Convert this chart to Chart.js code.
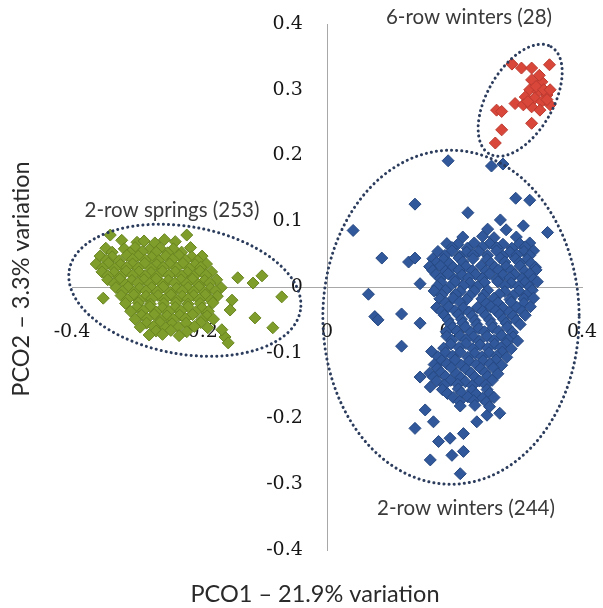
<!DOCTYPE html>
<html>
<head>
<meta charset="utf-8">
<script src="https://cdn.jsdelivr.net/npm/chart.js@4.4.0/dist/chart.umd.min.js"></script>
<style>
  html, body { margin: 0; padding: 0; background: #fff; overflow: hidden; }
  #wrap { position: relative; width: 603px; height: 608px; }
</style>
</head>
<body>
<div id="wrap"><canvas id="pcoChart"></canvas></div>
<script>
// tick values
const xTicks = [-0.4, -0.2, 0, 0.2, 0.4];
const yTicks = [-0.4, -0.3, -0.2, -0.1, 0, 0.1, 0.2, 0.3, 0.4];

// group names
const groupNames = ['2-row springs (253)', '2-row winters (244)', '6-row winters (28)'];

// PCO1 / PCO2 scores, [x, y]
const springs2row = [
  [-0.340,0.079],[-0.220,0.079],[-0.298,0.068],[-0.270,0.067],[-0.351,-0.017],[-0.140,0.014],
  [-0.116,0.006],[-0.102,0.017],[-0.071,-0.015],[-0.113,-0.047],[-0.085,-0.062],[-0.160,-0.076],
  [-0.165,-0.065],[-0.149,-0.020],[-0.152,-0.035],[-0.155,-0.085],
  [-0.322,0.071],[-0.287,0.070],[-0.255,0.072],[-0.238,0.069],
  [-0.347,0.059],[-0.318,0.058],[-0.301,0.060],[-0.279,0.057],[-0.262,0.059],[-0.241,0.058],[-0.214,0.060],
  [-0.337,0.053],[-0.309,0.052],[-0.290,0.054],[-0.268,0.053],[-0.250,0.052],[-0.228,0.053],
  [-0.356,0.047],[-0.337,0.046],[-0.314,0.048],[-0.296,0.047],[-0.275,0.045],[-0.253,0.047],[-0.232,0.048],[-0.212,0.046],[-0.196,0.047],
  [-0.346,0.041],[-0.326,0.040],[-0.305,0.042],[-0.285,0.041],[-0.264,0.040],[-0.242,0.042],[-0.222,0.041],[-0.203,0.040],
  [-0.362,0.035],[-0.343,0.036],[-0.324,0.034],[-0.305,0.035],[-0.286,0.036],[-0.267,0.034],[-0.247,0.035],[-0.226,0.036],[-0.207,0.034],[-0.189,0.035],
  [-0.352,0.029],[-0.333,0.028],[-0.314,0.030],[-0.296,0.029],[-0.276,0.028],[-0.257,0.030],[-0.236,0.029],[-0.216,0.028],[-0.198,0.030],
  [-0.353,0.023],[-0.334,0.022],[-0.315,0.024],[-0.295,0.023],[-0.276,0.022],[-0.258,0.024],[-0.238,0.023],[-0.219,0.022],[-0.199,0.024],[-0.181,0.023],
  [-0.344,0.017],[-0.324,0.016],[-0.305,0.018],[-0.285,0.017],[-0.267,0.016],[-0.248,0.018],[-0.228,0.017],[-0.209,0.016],[-0.190,0.018],
  [-0.344,0.011],[-0.325,0.012],[-0.306,0.010],[-0.287,0.011],[-0.268,0.012],[-0.249,0.010],[-0.229,0.011],[-0.211,0.012],[-0.192,0.010],[-0.173,0.011],
  [-0.334,0.005],[-0.316,0.004],[-0.297,0.006],[-0.278,0.005],[-0.258,0.004],[-0.239,0.006],[-0.220,0.005],[-0.202,0.004],[-0.184,0.006],
  [-0.331,-0.001],[-0.312,0.000],[-0.294,-0.002],[-0.275,-0.001],[-0.257,0.000],[-0.236,-0.002],[-0.218,-0.001],[-0.201,0.000],[-0.183,-0.002],[-0.166,-0.001],
  [-0.321,-0.007],[-0.303,-0.008],[-0.284,-0.006],[-0.266,-0.007],[-0.246,-0.008],[-0.227,-0.006],[-0.209,-0.007],[-0.192,-0.008],[-0.175,-0.006],
  [-0.323,-0.013],[-0.303,-0.012],[-0.284,-0.014],[-0.265,-0.013],[-0.245,-0.012],[-0.227,-0.014],[-0.209,-0.013],[-0.191,-0.012],[-0.172,-0.014],
  [-0.313,-0.019],[-0.294,-0.020],[-0.275,-0.018],[-0.255,-0.019],[-0.236,-0.020],[-0.218,-0.018],[-0.200,-0.019],[-0.182,-0.020],
  [-0.316,-0.025],[-0.296,-0.024],[-0.277,-0.026],[-0.256,-0.025],[-0.237,-0.024],[-0.218,-0.026],[-0.199,-0.025],[-0.179,-0.024],
  [-0.298,-0.031],[-0.278,-0.030],[-0.258,-0.032],[-0.238,-0.031],[-0.218,-0.030],[-0.196,-0.032],
  [-0.308,-0.037],[-0.288,-0.036],[-0.268,-0.038],[-0.248,-0.037],[-0.229,-0.036],[-0.206,-0.038],[-0.186,-0.037],
  [-0.291,-0.043],[-0.271,-0.042],[-0.251,-0.044],[-0.231,-0.043],[-0.211,-0.042],[-0.188,-0.044],
  [-0.301,-0.049],[-0.282,-0.048],[-0.261,-0.050],[-0.241,-0.049],[-0.222,-0.048],[-0.197,-0.050],[-0.178,-0.049],
  [-0.283,-0.055],[-0.262,-0.054],[-0.243,-0.056],[-0.221,-0.055],[-0.198,-0.054],
  [-0.293,-0.061],[-0.272,-0.060],[-0.253,-0.062],[-0.233,-0.061],[-0.208,-0.060],[-0.187,-0.062],
  [-0.268,-0.067],[-0.245,-0.066],[-0.220,-0.068],
  [-0.279,-0.073],[-0.258,-0.072],[-0.232,-0.074]
];

const winters2row = [
  [0.190,0.192],[0.258,0.184],[0.276,0.187],[0.138,0.126],[0.221,0.113],[0.296,0.135],[0.318,0.132],
  [0.272,0.102],[0.308,0.093],[0.346,0.083],[0.041,0.086],[0.086,0.044],[0.128,0.038],[0.138,0.044],
  [0.146,0.005],[0.065,-0.011],[0.075,-0.045],[0.080,-0.050],[0.117,-0.041],[0.146,-0.055],[0.117,-0.090],
  [0.164,-0.098],[0.146,-0.137],[0.162,-0.152],[0.154,-0.187],[0.167,-0.205],[0.138,-0.215],[0.175,-0.235],
  [0.193,-0.230],[0.214,-0.223],[0.196,-0.256],[0.214,-0.250],[0.162,-0.263],[0.209,-0.284],[0.235,-0.205],
  [0.251,-0.195],[0.271,-0.192],
  [0.252,0.088],[0.281,0.087],
  [0.213,0.076],[0.244,0.077],[0.262,0.075],[0.297,0.076],
  [0.188,0.066],[0.205,0.065],[0.231,0.067],[0.255,0.066],[0.276,0.065],[0.302,0.066],[0.318,0.067],
  [0.196,0.060],[0.220,0.059],[0.244,0.061],[0.266,0.060],[0.290,0.059],[0.311,0.061],
  [0.174,0.054],[0.196,0.055],[0.219,0.053],[0.238,0.054],[0.266,0.055],[0.287,0.053],[0.309,0.054],[0.324,0.055],
  [0.185,0.048],[0.208,0.047],[0.229,0.049],[0.252,0.048],[0.276,0.047],[0.298,0.049],[0.318,0.048],
  [0.166,0.043],[0.183,0.042],[0.207,0.044],[0.229,0.043],[0.251,0.042],[0.272,0.044],[0.296,0.043],[0.314,0.042],
  [0.172,0.037],[0.192,0.036],[0.213,0.038],[0.257,0.036],[0.279,0.038],[0.302,0.037],[0.320,0.036],
  [0.161,0.031],[0.178,0.032],[0.198,0.030],[0.218,0.031],[0.242,0.032],[0.263,0.030],[0.281,0.031],[0.303,0.032],[0.327,0.030],
  [0.166,0.025],[0.186,0.024],[0.207,0.026],[0.228,0.025],[0.249,0.024],[0.269,0.026],[0.289,0.025],[0.310,0.024],[0.328,0.026],
  [0.171,0.019],[0.190,0.020],[0.212,0.018],[0.233,0.019],[0.255,0.020],[0.276,0.018],[0.294,0.019],[0.318,0.020],
  [0.178,0.013],[0.200,0.012],[0.222,0.014],[0.244,0.013],[0.266,0.012],[0.287,0.014],[0.306,0.013],[0.324,0.012],
  [0.179,0.007],[0.201,0.008],[0.224,0.006],[0.247,0.007],[0.268,0.008],[0.289,0.006],[0.311,0.007],[0.330,0.008],
  [0.173,0.001],[0.192,0.000],[0.214,0.002],[0.236,0.001],[0.279,0.002],[0.300,0.001],[0.318,0.000],
  [0.168,-0.006],[0.186,-0.005],[0.209,-0.007],[0.231,-0.006],[0.252,-0.005],[0.279,-0.007],[0.301,-0.006],[0.322,-0.005],
  [0.180,-0.012],[0.202,-0.011],[0.224,-0.013],[0.246,-0.012],[0.270,-0.011],[0.292,-0.013],[0.313,-0.012],
  [0.177,-0.018],[0.198,-0.017],[0.219,-0.019],[0.243,-0.018],[0.262,-0.017],[0.287,-0.019],[0.309,-0.018],[0.324,-0.017],
  [0.186,-0.024],[0.208,-0.023],[0.250,-0.025],[0.268,-0.024],[0.289,-0.023],[0.309,-0.025],
  [0.172,-0.031],[0.191,-0.030],[0.214,-0.032],[0.236,-0.031],[0.257,-0.030],[0.276,-0.032],[0.298,-0.031],[0.319,-0.030],
  [0.179,-0.037],[0.201,-0.036],[0.223,-0.038],[0.244,-0.037],[0.265,-0.036],[0.286,-0.038],[0.306,-0.037],
  [0.184,-0.043],[0.206,-0.042],[0.228,-0.044],[0.249,-0.043],[0.271,-0.042],[0.292,-0.044],[0.311,-0.043],
  [0.190,-0.050],[0.211,-0.049],[0.232,-0.051],[0.255,-0.050],[0.277,-0.049],[0.297,-0.051],
  [0.193,-0.056],[0.213,-0.055],[0.235,-0.057],[0.258,-0.056],[0.281,-0.055],[0.303,-0.057],
  [0.197,-0.062],[0.217,-0.061],[0.238,-0.063],[0.260,-0.062],[0.283,-0.061],
  [0.187,-0.068],[0.204,-0.067],[0.226,-0.069],[0.247,-0.068],[0.269,-0.067],[0.291,-0.069],
  [0.188,-0.075],[0.209,-0.074],[0.230,-0.076],[0.251,-0.075],[0.274,-0.074],[0.292,-0.076],
  [0.196,-0.081],[0.218,-0.080],[0.239,-0.082],[0.262,-0.081],[0.284,-0.080],[0.299,-0.082],
  [0.194,-0.087],[0.218,-0.086],[0.240,-0.088],[0.263,-0.087],[0.281,-0.086],
  [0.183,-0.093],[0.207,-0.092],[0.229,-0.094],[0.252,-0.093],[0.273,-0.092],[0.289,-0.094],
  [0.186,-0.100],[0.209,-0.099],[0.232,-0.101],[0.254,-0.100],[0.275,-0.099],
  [0.174,-0.106],[0.197,-0.105],[0.221,-0.107],[0.243,-0.106],[0.266,-0.105],[0.282,-0.107],
  [0.180,-0.112],[0.201,-0.111],[0.223,-0.113],[0.245,-0.112],[0.265,-0.111],
  [0.168,-0.118],[0.188,-0.117],[0.211,-0.119],[0.234,-0.118],[0.256,-0.117],[0.274,-0.119],
  [0.173,-0.124],[0.195,-0.123],[0.218,-0.125],[0.241,-0.124],[0.261,-0.123],
  [0.161,-0.131],[0.179,-0.130],[0.203,-0.132],[0.226,-0.131],[0.248,-0.130],[0.268,-0.132],
  [0.167,-0.137],[0.186,-0.136],[0.210,-0.138],[0.232,-0.137],[0.252,-0.136],
  [0.172,-0.143],[0.194,-0.142],[0.217,-0.144],[0.239,-0.143],[0.259,-0.142],
  [0.184,-0.149],[0.205,-0.148],[0.228,-0.150],[0.249,-0.149],
  [0.181,-0.156],[0.206,-0.155],[0.228,-0.157],[0.251,-0.156],
  [0.189,-0.162],[0.211,-0.161],[0.234,-0.163],[0.255,-0.162],
  [0.198,-0.168],[0.221,-0.167],[0.244,-0.169],[0.262,-0.168],
  [0.208,-0.174],[0.230,-0.173],[0.250,-0.175],
  [0.209,-0.181],[0.232,-0.180],[0.255,-0.182]
];

const winters6row = [
  [0.290,0.339],[0.305,0.333],[0.321,0.333],[0.349,0.338],[0.321,0.315],[0.337,0.312],[0.318,0.300],
  [0.331,0.297],[0.345,0.292],[0.311,0.289],[0.326,0.287],[0.337,0.282],[0.295,0.279],[0.308,0.277],
  [0.321,0.274],[0.334,0.269],[0.350,0.277],[0.266,0.269],[0.274,0.267],[0.321,0.249],[0.274,0.239],
  [0.264,0.219],[0.328,0.305],[0.340,0.300],[0.315,0.282],[0.345,0.285],[0.333,0.322],[0.350,0.300]
];

// dotted rings round each group: centre and half-widths in data units, tilt in degrees
const rings = [
  { cx: -0.223, cy: -0.005, rx: 0.184, ry: 0.097, tilt: 10 },
  { cx: 0.1945, cy: -0.046, rx: 0.201, ry: 0.254, tilt: 0 },
  { cx: 0.303, cy: 0.284, rx: 0.097, ry: 0.050, tilt: -60 }
];

const toPoints = arr => arr.map(p => ({ x: p[0], y: p[1] }));

const ringsPlugin = {
  id: 'rings',
  afterDatasetsDraw(chart) {
    const { ctx, scales: { x, y } } = chart;
    ctx.save();
    ctx.strokeStyle = '#2b3c5c';
    ctx.lineWidth = 3;
    ctx.lineCap = 'round';
    ctx.setLineDash([0.1, 5]);
    rings.forEach(r => {
      const px = x.getPixelForValue(r.cx);
      const py = y.getPixelForValue(r.cy);
      const rx = Math.abs(x.getPixelForValue(r.rx) - x.getPixelForValue(0));
      const ry = Math.abs(y.getPixelForValue(r.ry) - y.getPixelForValue(0));
      ctx.beginPath();
      ctx.ellipse(px, py, rx, ry, r.tilt * Math.PI / 180, 0, Math.PI * 2);
      ctx.stroke();
    });
    ctx.restore();
  }
};

const textPlugin = {
  id: 'texts',
  afterDraw(chart) {
    const ctx = chart.ctx;
    ctx.save();
    ctx.fillStyle = '#3a3a3a';
    ctx.textAlign = 'center';
    ctx.textBaseline = 'middle';
    ctx.font = '20.5px Lato';
    ctx.fillText(groupNames[0], 172, 210);
    ctx.fillText(groupNames[1], 466, 508);
    ctx.fillText(groupNames[2], 469, 17);

    ctx.fillStyle = '#2a2a2a';
    ctx.font = '23.5px Lato';
    ctx.fillText('PCO1 \u2013 21.9% variation', 315, 594);
    ctx.translate(21, 279);
    ctx.rotate(-Math.PI / 2);
    ctx.fillText('PCO2 \u2013 3.3% variation', 0, 0);
    ctx.restore();
  }
};

const tickFont = { family: 'DejaVu Serif', size: 19 };

new Chart(document.getElementById('pcoChart'), {
  type: 'scatter',
  data: {
    datasets: [
      {
        label: groupNames[0],
        data: toPoints(springs2row),
        pointStyle: 'rectRot',
        pointRadius: 6,
        backgroundColor: '#7e9d2b',
        borderColor: '#68851f',
        borderWidth: 1
      },
      {
        label: groupNames[1],
        data: toPoints(winters2row),
        pointStyle: 'rectRot',
        pointRadius: 6,
        backgroundColor: '#30589a',
        borderColor: '#264882',
        borderWidth: 1
      },
      {
        label: groupNames[2],
        data: toPoints(winters6row),
        pointStyle: 'rectRot',
        pointRadius: 6,
        backgroundColor: '#d9463a',
        borderColor: '#bb3a2f',
        borderWidth: 1
      }
    ]
  },
  options: {
    responsive: true,
    maintainAspectRatio: false,
    animation: false,
    layout: { padding: { left: 72, right: 21, top: 24, bottom: 58 } },
    plugins: {
      legend: { display: false },
      tooltip: { enabled: false }
    },
    scales: {
      // the two axis lines crossing at the origin
      x: {
        type: 'linear',
        position: { y: 0 },
        min: -0.4,
        max: 0.4,
        grid: { display: false, drawTicks: false },
        border: { display: true, color: '#a8a8a8', width: 1 },
        ticks: { display: false }
      },
      y: {
        type: 'linear',
        position: { x: 0 },
        min: -0.4,
        max: 0.4,
        grid: { display: false, drawTicks: false },
        border: { display: true, color: '#a8a8a8', width: 1 },
        ticks: { display: false }
      },
      // label rows, set a little off the lines
      x2: {
        type: 'linear',
        axis: 'x',
        position: { y: -0.051 },
        min: -0.4,
        max: 0.4,
        afterBuildTicks: axis => { axis.ticks = xTicks.map(v => ({ value: v })); },
        grid: { display: false, drawTicks: false },
        border: { display: false },
        ticks: { font: tickFont, color: '#161616', padding: 0, maxRotation: 0 }
      },
      y2: {
        type: 'linear',
        axis: 'y',
        position: { x: -0.038 },
        min: -0.4,
        max: 0.4,
        afterBuildTicks: axis => { axis.ticks = yTicks.map(v => ({ value: v })); },
        grid: { display: false, drawTicks: false },
        border: { display: false },
        ticks: { font: tickFont, color: '#161616', padding: 0 }
      }
    }
  },
  plugins: [ringsPlugin, textPlugin]
});
</script>
</body>
</html>
